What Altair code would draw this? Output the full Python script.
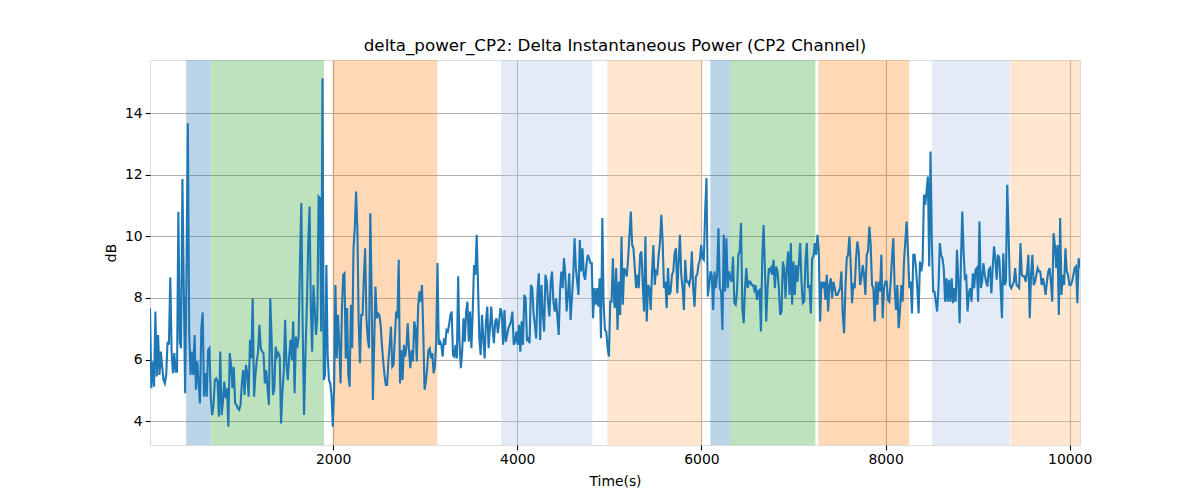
import altair as alt
import numpy as np
import pandas as pd

TITLE = "delta_power_CP2: Delta Instantaneous Power (CP2 Channel)"
T_START, T_END = 11, 10112

seg1 = [7.67,5.07,5.94,5.12,7.56,5.45,6.80,5.50,6.26,5.77,
5.34,5.23,5.50,6.58,6.48,8.66,6.26,5.56,6.21,5.61,
5.61,10.80,6.58,6.37,11.86,8.32,4.91,8.86,13.67,6.91,
5.50,6.26,5.50,6.80,5.02,5.94,5.23,4.58,7.02,7.53,
4.80,5.56,4.80,6.31,6.37,4.75,4.20,4.53,5.34,5.39,
5.29,4.15,6.26,4.20,4.64,5.29,4.75,5.07,3.82,6.21,
5.83,5.07,5.77,4.58,4.53,4.42,4.37,4.53,5.23,5.66,
4.85,5.83,5.56,4.80,6.64,6.04,7.99,4.80,5.50,5.94,
6.26,7.13,6.37,6.26,6.21,5.23,5.66,5.07,4.53,7.99,
6.69,4.85,5.07,6.42,6.10,6.21,6.10,3.93,4.96,5.61,
7.29,5.83,5.34,6.10,6.64,5.99,7.24,4.91,6.75,6.37,
6.75,9.18,11.08,7.02,4.20]

seg2 = [6.48,7.88,9.83,10.97,7.67,6.26,8.42,7.67,6.80,7.34,
11.29,11.24,6.91,15.13,5.34,5.50,9.07,6.15,5.34,5.23,
4.85,3.82,5.07,8.42,6.04,7.45,6.48,5.23,7.56,8.75,
8.80,6.04,7.67,5.50,5.12,7.78,6.37,9.61,10.26,11.45,
10.26,7.24,5.88,7.45,7.45,8.64,9.61,7.34,6.69,6.37,
10.75,8.32,4.69,6.48,8.37,7.34,7.50,7.45,7.13,6.48,
5.94,5.50,5.18,5.18,5.94,6.48,7.07,5.77,5.83,6.69,
7.56,7.34,9.24,5.23,6.31,5.34,6.48,6.10,6.42,7.18,
6.26,5.72,6.31,5.94,7.24,7.02,5.94,7.67,8.21,7.88,
8.42,6.91,5.02,5.29,5.72,6.31,6.37,6.04,6.21,5.56,
5.77,6.58,9.13,6.48,6.58,6.48,6.10,6.69,6.48,6.96,
6.91,7.13,7.45,7.56,6.15,6.10,6.48,6.04,8.70,6.58]

seg3 = [5.72,6.26,7.34,6.58,7.56,7.88,6.58,7.56,6.37,7.56,
9.07,8.75,10.05,8.42,6.69,6.15,7.45,6.69,6.04,7.24,
7.72,6.37,7.02,7.72,7.02,6.53,7.24,7.34,6.86,7.24,
7.67,7.50,6.48,7.61,6.58,6.80,7.02,7.13,7.24,7.56,
6.48,6.58,6.91,6.48,7.13,6.26,7.24,6.48,8.10,7.99,
6.64,6.69,6.53,8.42,8.32,7.50,7.13,6.69,8.21,8.80,
6.64,8.42,7.50,6.91,8.75,8.53,7.83,7.40,8.53,8.86,
7.88,7.56,7.99,7.40,6.80,8.21,8.86,8.32,9.29,8.75,
7.56,8.10,8.80,7.29,7.99,8.70,9.94,8.97,8.53,8.10,
9.88,8.86,9.61,8.75,8.59,9.07,9.40,9.29,9.13,9.13,
7.34,8.32,7.78,8.32,7.72,8.64,6.69,10.59,7.83,6.96,
6.91,6.37,6.10,7.88,7.88,9.29,7.88]

seg4 = [7.67,8.97,6.96,8.53,7.45,9.99,7.78,8.97,8.86,8.70,
9.29,10.05,10.80,9.72,9.61,8.97,8.32,8.75,8.32,9.40,
9.51,8.42,7.56,9.99,7.24,8.42,8.32,7.61,8.86,9.72,
8.42,8.86,8.80,9.40,9.83,10.70,9.83,8.32,8.53,7.67,
8.97,8.10,8.21,8.75,8.86,9.45,9.61,8.15,9.18,10.05,
8.75,8.32,7.61,9.24,8.53,8.53,8.42,8.64,9.51,8.32,
7.72,8.70,8.75,9.07,9.24,9.72,9.29,9.24,10.80,11.89,
8.05,8.42,8.86,8.75,7.61,8.86,8.32,8.75,10.26,8.32,
8.21,6.96,10.05,8.21,9.94,8.32,8.86,8.64,8.53,9.34,
7.83,7.78,8.21,9.40,9.51,10.43,7.67,7.18,8.32,8.97,
8.32,8.53,8.53,8.42,8.42,8.26,8.42,7.94,8.21,8.26,
6.91,9.29,10.37,8.97,7.24,8.32,8.97]

seg5 = [8.86,8.97,8.75,9.24,8.32,9.02,8.86,8.32,7.45,7.56,
9.18,8.97,7.99,8.97,9.51,8.10,9.78,7.78,9.18,8.10,
9.07,8.53,9.13,9.78,8.53,7.83,7.88,9.18,9.78,8.32,
8.42,7.50,9.29,9.34,9.78,9.40,10.05,9.51,7.24,8.53,
8.32,8.53,7.94,8.75,7.56,8.42,8.64,7.99,8.53,8.32,
8.10,8.10,8.21,8.32,8.86,7.45,6.86,8.32,9.29,9.40,
9.99,9.07,7.83,8.48,8.32,9.29,9.83,9.51,8.42,8.64,
9.07,8.75,8.10,9.40,9.51,10.32,9.72,8.42,8.32,7.24,
8.53,7.78,8.53,8.21,9.40,7.34,8.32,8.53,8.53,7.94,
7.88,8.53,9.29,9.94,8.32,7.61,8.42,7.02,7.56,8.42,
7.88,9.18,9.83,10.48,9.51,8.32,8.53,7.50,9.40,9.40,
8.97,8.32,7.50,9.18,8.86,9.18,11.35]

seg6 = [11.02,11.45,11.94,9.02,12.75,9.83,8.21,8.21,7.88,7.56,
8.32,9.78,9.40,9.29,8.97,7.88,8.64,7.88,8.59,7.88,
8.64,7.83,8.32,7.88,9.56,8.53,7.18,9.18,10.80,9.51,
8.64,8.70,7.56,8.15,8.32,7.88,8.80,8.32,8.91,8.97,
7.88,10.48,8.32,8.53,9.13,8.75,8.53,8.37,8.91,8.97,
8.15,8.97,9.67,9.29,8.59,9.40,9.29,8.32,7.34,9.45,
8.42,8.53,11.67,10.16,8.42,8.32,8.42,8.53,8.97,8.42,
8.37,8.32,9.78,8.75,8.70,8.70,8.53,8.86,9.40,7.34,
8.75,9.40,8.42,8.53,8.75,8.97,8.86,8.86,8.42,8.64,
8.42,8.10,8.53,8.86,8.97,8.53,7.88,10.10,9.72,8.97,
9.72,7.45,10.59,8.10,8.75,8.42,9.61,8.86,8.75,8.42,
8.42,8.53,8.75,8.97,9.02,7.83,9.29,8.97]

# time range (s) covered by each segment
seg_first = [11, 1702, 3387, 5060, 6740, 8431]
seg_last = [1684, 3372, 5053, 6733, 8417, 10112]

segments = [seg1, seg2, seg3, seg4, seg5, seg6]
times, values = [], []
for seg, t0, t1 in zip(segments, seg_first, seg_last):
    times.extend(np.linspace(t0, t1, len(seg)).tolist())
    values.extend(seg)
line_df = pd.DataFrame({"t": times, "v": values})

span_start = [410, 681, 2000, 3832, 4984, 6103, 6319, 7276, 8511, 9362]
span_end = [667, 1895, 3126, 4810, 6005, 6309, 7233, 8251, 9344, 10112]
span_color = ["#1f77b4", "#2ca02c", "#ff7f0e", "#aec7e8", "#ffbb78",
              "#1f77b4", "#2ca02c", "#ff7f0e", "#aec7e8", "#ffbb78"]
span_alpha = [0.3, 0.3, 0.3, 0.35, 0.35, 0.3, 0.3, 0.3, 0.35, 0.35]
span_df = pd.DataFrame({"s": span_start, "e": span_end, "c": span_color, "a": span_alpha})

x_ticks = [2000, 4000, 6000, 8000, 10000]
y_ticks = [4, 6, 8, 10, 12, 14]

xscale = alt.Scale(domain=[T_START, T_END], nice=False, zero=False)
yscale = alt.Scale(domain=[3.23, 15.72], nice=False, zero=False)

FONT = "DejaVu Sans"
axis_common = dict(labelFont=FONT, titleFont=FONT, labelFontSize=13.9, titleFontSize=13.9,
                   titleFontWeight="normal", labelColor="black", titleColor="black",
                   tickColor="black", tickSize=4.9, tickWidth=1.1, domain=False,
                   grid=True, gridColor="#b0b0b0", gridWidth=1.1, labelPadding=3)

spans = alt.Chart(span_df).mark_rect(strokeWidth=1, clip=True).encode(
    x=alt.X("s:Q", scale=xscale,
            axis=alt.Axis(title="Time(s)", values=x_ticks, format="d", titlePadding=8, **axis_common)),
    x2="e:Q",
    color=alt.Color("c:N", scale=None),
    stroke=alt.Color("c:N", scale=None),
    opacity=alt.Opacity("a:Q", scale=None),
)

line = alt.Chart(line_df).mark_line(color="#1f77b4", strokeWidth=2.1, clip=True).encode(
    x=alt.X("t:Q", scale=xscale),
    y=alt.Y("v:Q", scale=yscale,
            axis=alt.Axis(title="dB", values=y_ticks, format="d", titlePadding=6, **axis_common)),
)

chart = alt.layer(spans, line).properties(
    width=930, height=385,
    title=alt.TitleParams(TITLE, font=FONT, fontSize=16.7, fontWeight="normal",
                          color="black", anchor="middle", offset=5),
    padding={"left": 142, "top": 52, "right": 112, "bottom": 47},
    autosize="none",
).configure_view(stroke="black", strokeWidth=1.1).configure(background="white")

chart.save("out.html", embed_options={"renderer": "svg", "actions": False})
